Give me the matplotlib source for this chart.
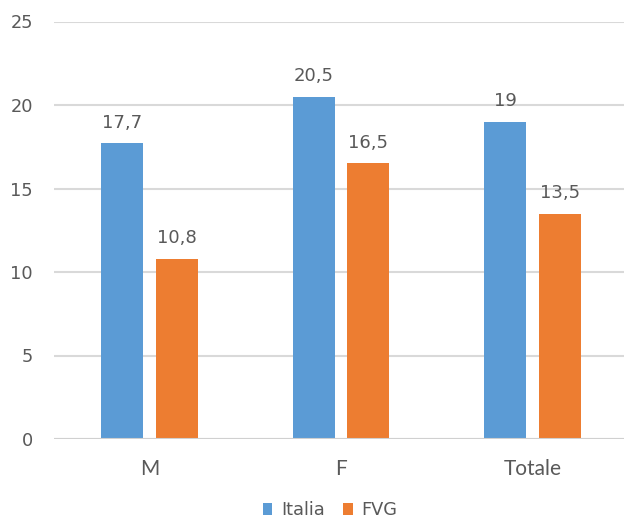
import matplotlib
matplotlib.use("Agg")
import matplotlib.pyplot as plt
import numpy as np

categories = ["M", "F", "Totale"]
italia = [17.7, 20.5, 19]
fvg = [10.8, 16.5, 13.5]
italia_labels = ["17,7", "20,5", "19"]
fvg_labels = ["10,8", "16,5", "13,5"]
yticks = [0, 5, 10, 15, 20, 25]

plt.rcParams['font.family'] = ['DejaVu Sans']
txt = '#595959'

fig = plt.figure(figsize=(6.24, 5.19), dpi=100)
ax = fig.add_axes([53.75/624, 80/519, 574.5/624, 417.5/519])

x = np.arange(len(categories))
w = 0.22
off = 0.142
b1 = ax.bar(x - off, italia, w, color='#5B9BD5', label='Italia', zorder=3)
b2 = ax.bar(x + off, fvg, w, color='#ED7D31', label='FVG', zorder=3)

for rects, labs in ((b1, italia_labels), (b2, fvg_labels)):
    for r, l in zip(rects, labs):
        ax.annotate(l, (r.get_x() + r.get_width()/2, r.get_height()),
                    xytext=(0, 8.5), textcoords='offset points',
                    ha='center', va='bottom', color=txt, fontsize=13)

ax.set_xlim(-0.5, 2.5)
ax.set_ylim(0, 25)
ax.set_yticks(yticks)
ax.set_yticklabels([str(t) for t in yticks], fontsize=12.8)
ax.set_xticks(x)
ax.set_xticklabels(categories, family=['Lato', 'DejaVu Sans'], fontsize=15)
ax.tick_params(axis='both', length=0, colors=txt)
ax.tick_params(axis='y', pad=15)
ax.tick_params(axis='x', pad=14.5)
ax.yaxis.grid(True, color='#D9D9D9', linewidth=1.5, zorder=0)
for s in ax.spines.values():
    s.set_visible(False)
ax.axhline(0, color='#D0D0D0', linewidth=1.5, zorder=4)

fig.legend(handles=[b1, b2], labels=['Italia', 'FVG'], loc='center',
           bbox_to_anchor=(330/624, 9/519), ncol=2, frameon=False,
           fontsize=12.8, labelcolor=txt, handlelength=0.55, handleheight=0.7,
           handletextpad=0.5, columnspacing=1.0)

fig.savefig('out.png', dpi=100)
